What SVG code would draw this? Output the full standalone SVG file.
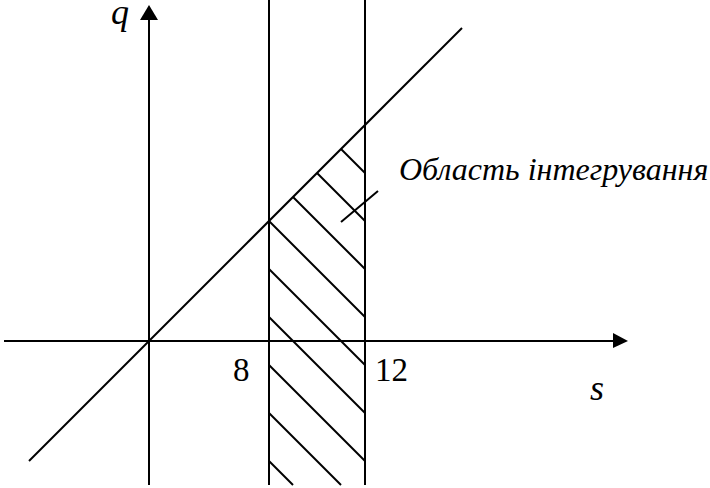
<svg xmlns="http://www.w3.org/2000/svg" width="710" height="488" viewBox="0 0 710 488">
<style>
.ln{stroke:#000;stroke-width:2;fill:none}
.h{stroke:#000;stroke-width:2;fill:none}
.t{font-family:"Liberation Serif","Times New Roman",serif;fill:#000;font-size:32px}
.i{font-style:italic}
.ax{font-size:36px}
.n{font-size:33px}
</style>
<rect width="710" height="488" fill="#fff"/>
<g id="connectors">
<line id="q-axis" class="ln" x1="149" y1="485" x2="149" y2="18"/>
<polygon points="149,5 140,20 158,20" fill="#000"/>
<line id="s-axis" class="ln" x1="4" y1="341" x2="615" y2="341"/>
<polygon points="628,341 613,333 613,348" fill="#000"/>
<line id="diag" class="ln" x1="29" y1="461" x2="462" y2="28"/>
<line id="v8" class="ln" x1="269" y1="0" x2="269" y2="485"/>
<line id="v12" class="ln" x1="365" y1="0" x2="365" y2="485"/>
<g id="hatch" class="h">
<line x1="341" y1="149" x2="365" y2="173"/>
<line x1="317" y1="173" x2="365" y2="221"/>
<line x1="293" y1="197" x2="365" y2="269"/>
<line x1="269" y1="221" x2="365" y2="317"/>
<line x1="269" y1="269" x2="365" y2="365"/>
<line x1="269" y1="317" x2="365" y2="413"/>
<line x1="269" y1="365" x2="365" y2="461"/>
<line x1="269" y1="413" x2="341" y2="485"/>
<line x1="269" y1="461" x2="293" y2="485"/>
</g>
<line id="leader" class="ln" x1="341" y1="222" x2="378" y2="191"/>
</g>
<g id="labels">
<text class="t i ax" x="111" y="24">q</text>
<text class="t i ax" x="590" y="400">s</text>
<text class="t n" x="233" y="381">8</text>
<text class="t n" x="375" y="381">12</text>
<text id="region" class="t i" x="399" y="180">Область інтегрування</text>
</g>
</svg>
